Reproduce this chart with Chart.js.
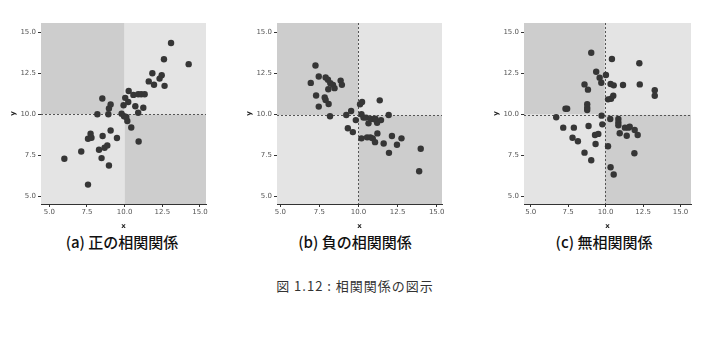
<!DOCTYPE html>
<html>
<head>
<meta charset="utf-8">
<script src="https://cdn.jsdelivr.net/npm/chart.js@4/dist/chart.umd.min.js"></script>
<style>
  html, body { margin: 0; padding: 0; background: #ffffff; width: 725px; height: 347px; overflow: hidden; }
  .box { position: absolute; }
  .cap { position: absolute; font-family: "Noto Sans CJK JP", "Noto Sans", sans-serif; color: #111; white-space: nowrap; transform: translateX(-50%); }
</style>
</head>
<body>
<div class="box" style="left:9px;top:15px;width:206px;height:215px;"><canvas id="ca"></canvas></div>
<div class="box" style="left:245px;top:15px;width:206px;height:215px;"><canvas id="cb"></canvas></div>
<div class="box" style="left:492px;top:15px;width:208px;height:215px;"><canvas id="cc"></canvas></div>
<div class="cap" style="left:122px;top:231px;font-size:15px;font-weight:500;">(a) 正の相関関係</div>
<div class="cap" style="left:355px;top:231px;font-size:15px;font-weight:500;">(b) 負の相関関係</div>
<div class="cap" style="left:604px;top:231px;font-size:15px;font-weight:500;">(c) 無相関関係</div>
<div class="cap" style="left:355px;top:276px;font-size:13px;color:#333;letter-spacing:1px;">図 1.12 : 相関関係の図示</div>
<script>
// ---- data ----
const tickValues = [5.0, 7.5, 10.0, 12.5, 15.0];

const posX = [6.0, 7.12, 7.57, 7.57, 7.74, 7.8, 8.3, 8.47, 8.54, 8.52, 8.19, 8.67, 8.85, 8.96, 9.07, 9.49, 8.92, 8.96, 9.07, 9.8, 9.96, 10.11, 10.18, 10.44, 9.93, 10.04, 10.24, 10.27, 10.58, 10.71, 10.9, 10.93, 10.9, 11.1, 11.33, 11.24, 11.6, 11.84, 11.95, 12.32, 12.46, 12.65, 12.61, 13.08, 14.25];
const posY = [7.3, 7.74, 5.73, 8.52, 8.82, 8.58, 7.85, 7.34, 8.68, 10.96, 10.0, 7.97, 8.11, 6.89, 9.02, 8.56, 10.0, 10.35, 10.6, 10.04, 9.88, 9.84, 9.59, 9.2, 10.55, 11.0, 10.75, 11.42, 11.18, 10.49, 10.1, 8.35, 11.22, 11.22, 11.22, 10.4, 12.0, 12.5, 11.8, 12.17, 12.38, 11.73, 13.35, 14.33, 13.05];

const negX = [7.25, 6.95, 7.46, 7.9, 8.05, 8.2, 8.37, 8.47, 8.86, 8.94, 8.07, 7.29, 7.84, 7.9, 8.09, 7.46, 8.18, 9.22, 9.53, 9.83, 9.32, 9.64, 10.1, 10.23, 10.19, 10.32, 10.49, 10.64, 10.8, 11.02, 11.19, 11.44, 11.08, 11.36, 11.93, 10.19, 10.55, 10.76, 10.91, 11.06, 11.21, 11.61, 11.95, 12.14, 12.46, 12.75, 13.98, 13.88];
const negY = [12.97, 11.91, 12.3, 12.24, 12.1, 11.89, 11.79, 11.59, 12.05, 11.79, 11.52, 11.14, 11.02, 10.87, 10.63, 10.47, 9.88, 9.96, 10.2, 9.65, 9.15, 8.92, 10.61, 10.75, 10.0, 9.8, 9.8, 9.45, 9.72, 9.7, 9.49, 9.65, 9.74, 10.85, 9.96, 8.54, 8.6, 8.6, 8.54, 8.31, 8.84, 8.23, 7.66, 8.68, 8.15, 8.54, 7.91, 6.54];

const noX = [9.04, 10.42, 12.25, 9.37, 10.02, 9.6, 9.71, 8.59, 8.82, 10.33, 10.54, 11.16, 12.28, 13.28, 13.28, 10.16, 10.36, 10.51, 8.77, 8.77, 8.77, 7.32, 7.43, 6.7, 9.73, 10.31, 10.85, 10.85, 10.85, 7.17, 7.88, 8.86, 9.78, 11.29, 11.52, 11.61, 11.94, 12.14, 10.94, 11.41, 9.29, 9.51, 7.79, 8.15, 9.33, 10.16, 8.59, 11.92, 9.04, 10.33, 10.54];
const noY = [13.74, 13.36, 13.1, 12.59, 12.39, 12.23, 11.92, 11.82, 11.5, 11.84, 11.76, 11.78, 11.82, 11.46, 11.13, 10.91, 10.95, 11.13, 10.61, 10.4, 10.26, 10.34, 10.34, 9.82, 9.92, 9.72, 9.72, 9.51, 9.33, 9.19, 9.19, 9.29, 9.39, 9.19, 9.19, 9.25, 9.05, 8.74, 8.85, 8.7, 8.74, 8.81, 8.58, 8.36, 8.2, 8.06, 7.67, 7.63, 7.21, 6.78, 6.34];

// ---- helpers ----
const DARK = '#cdcdcd';
const LIGHT = '#e4e4e4';

const quadrantPlugin = {
  id: 'quadrants',
  beforeDatasetsDraw(chart, args, opts) {
    const { ctx, chartArea: a, scales } = chart;
    const cx = scales.x.getPixelForValue(opts.cx);
    const cy = scales.y.getPixelForValue(opts.cy);
    ctx.save();
    ctx.fillStyle = DARK;  ctx.fillRect(a.left, a.top, cx - a.left, cy - a.top);
    ctx.fillStyle = LIGHT; ctx.fillRect(cx, a.top, a.right - cx, cy - a.top);
    ctx.fillStyle = LIGHT; ctx.fillRect(a.left, cy, cx - a.left, a.bottom - cy);
    ctx.fillStyle = DARK;  ctx.fillRect(cx, cy, a.right - cx, a.bottom - cy);
    ctx.strokeStyle = '#555';
    ctx.lineWidth = 1;
    ctx.setLineDash([2, 2]);
    ctx.beginPath();
    ctx.moveTo(a.left, Math.round(cy) + 0.5); ctx.lineTo(a.right, Math.round(cy) + 0.5);
    if (opts.vline) {
      ctx.moveTo(Math.round(cx) + 0.5, a.top); ctx.lineTo(Math.round(cx) + 0.5, a.bottom);
    }
    ctx.stroke();
    ctx.restore();
  }
};

function makeChart(id, xs, ys, xmin, xmax, cx, cy, vline) {
  const pts = xs.map((x, i) => ({ x: x, y: ys[i] }));
  const tickFont = { family: 'DejaVu Sans', size: 7 };
  return new Chart(document.getElementById(id), {
    type: 'scatter',
    data: { datasets: [{ data: pts, backgroundColor: '#363636', borderColor: '#363636', pointRadius: 3.2, pointHoverRadius: 3.2, borderWidth: 0 }] },
    plugins: [quadrantPlugin],
    options: {
      responsive: true,
      maintainAspectRatio: false,
      animation: false,
      events: [],
      layout: { padding: { top: 8, right: 9, left: 0, bottom: 0 } },
      plugins: {
        legend: { display: false },
        tooltip: { enabled: false },
        quadrants: { cx: cx, cy: cy, vline: vline }
      },
      scales: {
        x: {
          type: 'linear', min: xmin, max: xmax,
          afterBuildTicks(s) { s.ticks = tickValues.map(v => ({ value: v })); },
          afterFit(s) { s.height = 26; },
          ticks: { color: '#555', font: tickFont, padding: 1, maxRotation: 0, callback: v => Number(v).toFixed(1) },
          grid: { display: true, drawOnChartArea: false, drawTicks: true, tickLength: 3, color: '#333' },
          border: { display: true, color: '#333', width: 1 },
          title: { display: true, text: 'x', color: '#222', font: { family: 'DejaVu Sans', size: 7, weight: 'bold' }, padding: { top: 0, bottom: 0 } }
        },
        y: {
          type: 'linear', min: 4.55, max: 15.55,
          afterBuildTicks(s) { s.ticks = tickValues.map(v => ({ value: v })); },
          afterFit(s) { s.width = 32; },
          ticks: { color: '#555', font: tickFont, padding: 2, callback: v => Number(v).toFixed(1) },
          grid: { display: true, drawOnChartArea: false, drawTicks: true, tickLength: 3, color: '#333' },
          border: { display: true, color: '#333', width: 1 },
          title: { display: true, text: 'y', color: '#222', font: { family: 'DejaVu Sans', size: 7, weight: 'bold' }, padding: { top: 0, bottom: 0 } }
        }
      }
    }
  });
}

makeChart('ca', posX, posY, 4.45, 15.4, 10.0, 10.0, false);
makeChart('cb', negX, negY, 4.79, 15.34, 10.0, 9.94, true);
makeChart('cc', noX, noY, 4.55, 15.7, 9.95, 9.98, true);
</script>
</body>
</html>
